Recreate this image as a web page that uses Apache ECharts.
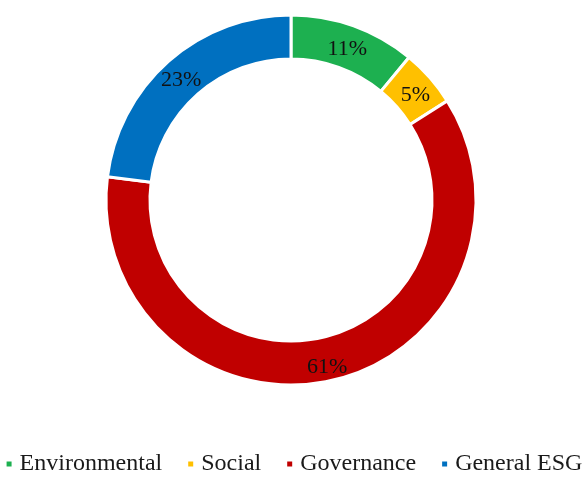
<!DOCTYPE html>
<html><head><meta charset="utf-8">
<script src="https://cdn.jsdelivr.net/npm/echarts@6/dist/echarts.min.js"></script>
<style>html,body{margin:0;padding:0;background:#fff}#c{width:587px;height:480px}</style>
</head><body><div id="c"></div>
<script>
const categories = ["Environmental", "Social", "Governance", "General ESG"];
const values = [11, 5, 61, 23];
const colors = ["#1DB050", "#FFC000", "#C00000", "#0070C0"];

const chart = echarts.init(document.getElementById('c'));
chart.setOption({
  animation: false,
  color: colors,
  legend: {
    data: categories,
    bottom: 4,
    left: 'center',
    padding: 0,
    icon: 'rect',
    itemWidth: 7,
    itemHeight: 7,
    itemGap: 24,
    textStyle: { fontFamily: 'Liberation Serif', fontSize: 24, color: '#1a1a1a', padding: [0, 0, 0, 2] }
  },
  series: [{
    type: 'pie',
    center: [291, 200],
    radius: [141, 185],
    startAngle: 90,
    clockwise: true,
    avoidLabelOverlap: false,
    itemStyle: { borderColor: '#fff', borderWidth: 3 },
    label: {
      show: true,
      position: 'inside',
      formatter: '{c}%',
      fontFamily: 'Liberation Serif',
      fontSize: 22,
      color: '#111',
      offset: [0, 5]
    },
    labelLine: { show: false },
    data: categories.map((n, i) => ({ name: n, value: values[i] }))
  }]
});
</script></body></html>
